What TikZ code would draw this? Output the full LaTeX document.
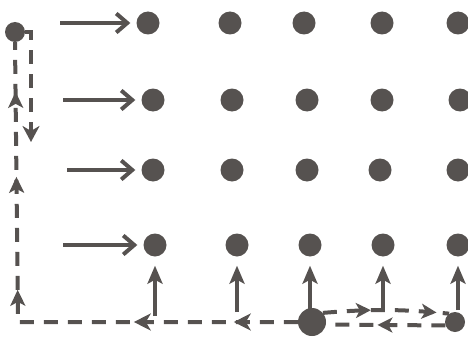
\documentclass[tikz,border=0pt]{standalone}
\usetikzlibrary{arrows.meta,decorations.markings}
\definecolor{inkc}{RGB}{86,82,80}
\tikzset{
  dot/.style={circle,fill=inkc,inner sep=0pt,minimum size=23pt},
  bigdot/.style={circle,fill=inkc,inner sep=0pt,minimum size=28pt},
  smalldot/.style={circle,fill=inkc,inner sep=0pt,minimum size=20pt},
  ink/.style={draw=inkc,line width=4.2pt},
  dashink/.style={draw=inkc,line width=4pt,dash pattern=on 14pt off 10pt},
  rarrow/.style={ink,-{Straight Barb[length=11pt,width=19pt,line width=4pt]},shorten >=6pt},
  uarrow/.style={ink,-{Stealth[length=18pt,width=15pt,inset=4pt]},shorten >=9pt},
  tipA/.style={-{Stealth[length=17pt,width=17pt,inset=5pt]}},
}
\begin{document}
\begin{tikzpicture}[x=1pt,y=-1pt]
\useasboundingbox (0,0) rectangle (468,353);
% grid of dots
\node[dot] (d11) at (148,23) {};
\node[dot] (d12) at (230,23) {};
\node[dot] (d13) at (304,23) {};
\node[dot] (d14) at (382,23) {};
\node[dot] (d15) at (458,23) {};
\node[dot] (d21) at (153,100) {};
\node[dot] (d22) at (232,100) {};
\node[dot] (d23) at (307,100) {};
\node[dot] (d24) at (382,100) {};
\node[dot] (d25) at (460,100) {};
\node[dot] (d31) at (153,170) {};
\node[dot] (d32) at (232,170) {};
\node[dot] (d33) at (307,170) {};
\node[dot] (d34) at (380,170) {};
\node[dot] (d35) at (458,170) {};
\node[dot] (d41) at (155,245) {};
\node[dot] (d42) at (237,245) {};
\node[dot] (d43) at (310,245) {};
\node[dot] (d44) at (383,245) {};
\node[dot] (d45) at (458,245) {};
% other dots
\node[smalldot] (tl) at (15,32) {};
\node[bigdot] (big) at (312,322) {};
\node[smalldot] (rd) at (455,322) {};
\coordinate (corner) at (18,322);
\coordinate (bEnd) at (31,142);
% right arrows
\coordinate (r1) at (60,23);
\coordinate (r2) at (63,100);
\coordinate (r3) at (67,170);
\coordinate (r4) at (63,245);
\draw[rarrow] (r1) -- (d11);
\draw[rarrow] (r2) -- (d21);
\draw[rarrow] (r3) -- (d31);
\draw[rarrow] (r4) -- (d41);
% up arrows
\coordinate (u1) at (155,316);
\coordinate (u2) at (237,312);
\coordinate (u3) at (310,309);
\coordinate (u4) at (383,312);
\coordinate (u5) at (458,310);
\draw[uarrow] (u1) -- (d41);
\draw[uarrow] (u2) -- (d42);
\draw[uarrow] (u3) -- (d43);
\draw[uarrow] (u4) -- (d44);
\draw[uarrow] (u5) -- (d45);
% bottom and left dashed path
\draw[dashink,postaction={decorate},decoration={markings,
  mark=at position 64pt with {\arrow[inkc]{Stealth[length=17pt,width=17pt,inset=5pt]}},
  mark=at position 164pt with {\arrow[inkc]{Stealth[length=17pt,width=17pt,inset=5pt]}},
  mark=at position 312pt with {\arrow[inkc]{Stealth[length=16pt,width=15pt,inset=4pt]}},
  mark=at position 425pt with {\arrow[inkc]{Stealth[length=16pt,width=15pt,inset=4pt]}},
  mark=at position 510pt with {\arrow[inkc]{Stealth[length=16pt,width=15pt,inset=4pt]}}}]
  (big.west) -- (corner) -- (tl.south);
% second left line going down
\draw[dashink,-{Stealth[length=16pt,width=17pt,inset=5pt]}] (tl.east) -| (bEnd);
% bottom right: lower path towards big dot
\draw[dashink,postaction={decorate},decoration={markings,
  mark=at position 68pt with {\arrow[inkc]{Stealth[length=15pt,width=15pt,inset=4pt]}}}]
  (rd.200) -- (big.-10);
% bottom right: upper path towards right dot
\draw[dashink,postaction={decorate},decoration={markings,
  mark=at position 0.38 with {\arrow[inkc]{Stealth[length=15pt,width=15pt,inset=4pt]}},
  mark=at position 0.9 with {\arrow[inkc]{Stealth[length=15pt,width=15pt,inset=4pt]}}}]
  (big.40) to[bend left=5] (rd.125);
\end{tikzpicture}
\end{document}
